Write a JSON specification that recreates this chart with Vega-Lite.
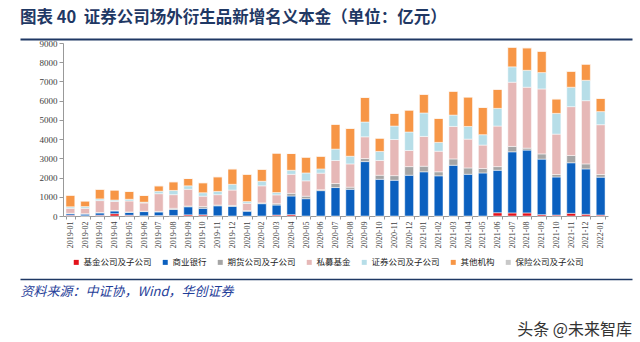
{
  "$schema": "https://vega.github.io/schema/vega-lite/v6.json",
  "background": "white",
  "padding": {"left": 20, "right": 6, "top": 9, "bottom": 4},
  "title": {"text": "图表 40\u00a0\u00a0证券公司场外衍生品新增名义本金（单位：亿元）", "anchor": "start", "font": "Noto Sans CJK SC", "fontSize": 16.5, "fontWeight": "bold", "color": "#1F3864", "offset": 12},
  "config": {"view": {"stroke": null}},
  "spacing": 30,
  "vconcat": [
    {
      "spacing": 0,
      "vconcat": [
        {
          "width": 569, "height": 1,
          "data": {"values": [{"v": 0}]},
          "mark": {"type": "point", "opacity": 0, "size": 0},
          "encoding": {"x": {"field": "v", "type": "quantitative", "scale": {"domain": [0, 1], "range": [-43, 569]}, "axis": {"orient": "bottom", "labels": false, "ticks": false, "grid": false, "title": null, "domainColor": "#1F3864", "domainWidth": 2}}}
        },
        {
          "width": 545, "height": 173,
          "data": {"values": [
            {"m": "2019-01", "基金公司及子公司": 40, "商业银行": 80, "期货公司及子公司": 20, "私募基金": 260, "证券公司及子公司": 80, "其他机构": 600, "保险公司及子公司": 0},
            {"m": "2019-02", "基金公司及子公司": 10, "商业银行": 90, "期货公司及子公司": 20, "私募基金": 280, "证券公司及子公司": 90, "其他机构": 290, "保险公司及子公司": 0},
            {"m": "2019-03", "基金公司及子公司": 40, "商业银行": 120, "期货公司及子公司": 20, "私募基金": 620, "证券公司及子公司": 90, "其他机构": 500, "保险公司及子公司": 0},
            {"m": "2019-04", "基金公司及子公司": 120, "商业银行": 140, "期货公司及子公司": 30, "私募基金": 470, "证券公司及子公司": 70, "其他机构": 520, "保险公司及子公司": 0},
            {"m": "2019-05", "基金公司及子公司": 40, "商业银行": 150, "期货公司及子公司": 20, "私募基金": 570, "证券公司及子公司": 90, "其他机构": 410, "保险公司及子公司": 0},
            {"m": "2019-06", "基金公司及子公司": 10, "商业银行": 220, "期货公司及子公司": 20, "私募基金": 430, "证券公司及子公司": 40, "其他机构": 350, "保险公司及子公司": 0},
            {"m": "2019-07", "基金公司及子公司": 20, "商业银行": 190, "期货公司及子公司": 30, "私募基金": 920, "证券公司及子公司": 130, "其他机构": 280, "保险公司及子公司": 0},
            {"m": "2019-08", "基金公司及子公司": 20, "商业银行": 320, "期货公司及子公司": 60, "私募基金": 710, "证券公司及子公司": 220, "其他机构": 450, "保险公司及子公司": 0},
            {"m": "2019-09", "基金公司及子公司": 60, "商业银行": 420, "期货公司及子公司": 40, "私募基金": 870, "证券公司及子公司": 180, "其他机构": 380, "保险公司及子公司": 0},
            {"m": "2019-10", "基金公司及子公司": 60, "商业银行": 340, "期货公司及子公司": 90, "私募基金": 540, "证券公司及子公司": 180, "其他机构": 520, "保险公司及子公司": 0},
            {"m": "2019-11", "基金公司及子公司": 10, "商业银行": 520, "期货公司及子公司": 40, "私募基金": 540, "证券公司及子公司": 170, "其他机构": 760, "保险公司及子公司": 0},
            {"m": "2019-12", "基金公司及子公司": 0, "商业银行": 500, "期货公司及子公司": 50, "私募基金": 800, "证券公司及子公司": 300, "其他机构": 800, "保险公司及子公司": 0},
            {"m": "2020-01", "基金公司及子公司": 0, "商业银行": 250, "期货公司及子公司": 30, "私募基金": 380, "证券公司及子公司": 90, "其他机构": 1420, "保险公司及子公司": 0},
            {"m": "2020-02", "基金公司及子公司": 0, "商业银行": 640, "期货公司及子公司": 40, "私募基金": 890, "证券公司及子公司": 240, "其他机构": 620, "保险公司及子公司": 0},
            {"m": "2020-03", "基金公司及子公司": 50, "商业银行": 520, "期货公司及子公司": 70, "私募基金": 460, "证券公司及子公司": 120, "其他机构": 2050, "保险公司及子公司": 0},
            {"m": "2020-04", "基金公司及子公司": 70, "商业银行": 970, "期货公司及子公司": 140, "私募基金": 990, "证券公司及子公司": 210, "其他机构": 870, "保险公司及子公司": 0},
            {"m": "2020-05", "基金公司及子公司": 0, "商业银行": 900, "期货公司及子公司": 130, "私募基金": 800, "证券公司及子公司": 410, "其他机构": 820, "保险公司及子公司": 0},
            {"m": "2020-06", "基金公司及子公司": 0, "商业银行": 1320, "期货公司及子公司": 50, "私募基金": 860, "证券公司及子公司": 220, "其他机构": 660, "保险公司及子公司": 0},
            {"m": "2020-07", "基金公司及子公司": 0, "商业银行": 1480, "期货公司及子公司": 210, "私募基金": 1200, "证券公司及子公司": 590, "其他机构": 1290, "保险公司及子公司": 0},
            {"m": "2020-08", "基金公司及子公司": 0, "商业银行": 1390, "期货公司及子公司": 110, "私募基金": 1210, "证券公司及子公司": 400, "其他机构": 1450, "保险公司及子公司": 0},
            {"m": "2020-09", "基金公司及子公司": 0, "商业银行": 2830, "期货公司及子公司": 160, "私募基金": 1130, "证券公司及子公司": 770, "其他机构": 1280, "保险公司及子公司": 0},
            {"m": "2020-10", "基金公司及子公司": 0, "商业银行": 1910, "期货公司及子公司": 210, "私募基金": 770, "证券公司及子公司": 470, "其他机构": 690, "保险公司及子公司": 0},
            {"m": "2020-11", "基金公司及子公司": 0, "商业银行": 1860, "期货公司及子公司": 240, "私募基金": 1880, "证券公司及子公司": 700, "其他机构": 660, "保险公司及子公司": 0},
            {"m": "2020-12", "基金公司及子公司": 0, "商业银行": 2120, "期货公司及子公司": 450, "私募基金": 840, "证券公司及子公司": 960, "其他机构": 1140, "保险公司及子公司": 0},
            {"m": "2021-01", "基金公司及子公司": 0, "商业银行": 2300, "期货公司及子公司": 290, "私募基金": 1550, "证券公司及子公司": 1220, "其他机构": 970, "保险公司及子公司": 0},
            {"m": "2021-02", "基金公司及子公司": 0, "商业银行": 2090, "期货公司及子公司": 210, "私募基金": 1070, "证券公司及子公司": 460, "其他机构": 1250, "保险公司及子公司": 0},
            {"m": "2021-03", "基金公司及子公司": 0, "商业银行": 2640, "期货公司及子公司": 330, "私募基金": 1690, "证券公司及子公司": 590, "其他机构": 1240, "保险公司及子公司": 0},
            {"m": "2021-04", "基金公司及子公司": 0, "商业银行": 2170, "期货公司及子公司": 330, "私募基金": 1500, "证券公司及子公司": 660, "其他机构": 1530, "保险公司及子公司": 0},
            {"m": "2021-05", "基金公司及子公司": 0, "商业银行": 2240, "期货公司及子公司": 230, "私募基金": 1220, "证券公司及子公司": 540, "其他机构": 1420, "保险公司及子公司": 0},
            {"m": "2021-06", "基金公司及子公司": 170, "商业银行": 2210, "期货公司及子公司": 190, "私募基金": 2110, "证券公司及子公司": 920, "其他机构": 990, "保险公司及子公司": 0},
            {"m": "2021-07", "基金公司及子公司": 160, "商业银行": 3180, "期货公司及子公司": 280, "私募基金": 3340, "证券公司及子公司": 800, "其他机构": 1020, "保险公司及子公司": 0},
            {"m": "2021-08", "基金公司及子公司": 160, "商业银行": 3270, "期货公司及子公司": 100, "私募基金": 3170, "证券公司及子公司": 880, "其他机构": 1170, "保险公司及子公司": 0},
            {"m": "2021-09", "基金公司及子公司": 70, "商业银行": 2890, "期货公司及子公司": 270, "私募基金": 3380, "证券公司及子公司": 850, "其他机构": 1110, "保险公司及子公司": 0},
            {"m": "2021-10", "基金公司及子公司": 50, "商业银行": 1980, "期货公司及子公司": 130, "私募基金": 2100, "证券公司及子公司": 1080, "其他机构": 750, "保险公司及子公司": 0},
            {"m": "2021-11", "基金公司及子公司": 140, "商业银行": 2630, "期货公司及子公司": 380, "私募基金": 2540, "证券公司及子公司": 1010, "其他机构": 830, "保险公司及子公司": 0},
            {"m": "2021-12", "基金公司及子公司": 90, "商业银行": 2360, "期货公司及子公司": 260, "私募基金": 3290, "证券公司及子公司": 1060, "其他机构": 840, "保险公司及子公司": 0},
            {"m": "2022-01", "基金公司及子公司": 50, "商业银行": 1970, "期货公司及子公司": 140, "私募基金": 2590, "证券公司及子公司": 680, "其他机构": 690, "保险公司及子公司": 0}
          ]},
          "transform": [
            {"fold": ["基金公司及子公司", "商业银行", "期货公司及子公司", "私募基金", "证券公司及子公司", "其他机构", "保险公司及子公司"], "as": ["type", "value"]},
            {"window": [{"op": "row_number", "as": "rank"}], "groupby": ["m"]}
          ],
          "mark": {"type": "bar", "stroke": "#ffffff", "strokeWidth": 0.5},
          "encoding": {
            "x": {"field": "m", "type": "ordinal", "sort": null, "scale": {"paddingInner": 0.4, "paddingOuter": 0.2},
              "axis": {"title": null, "labelAngle": 270, "labelFont": "Liberation Serif", "labelFontSize": 8, "labelColor": "#404040", "tickBand": "extent", "tickSize": 3, "tickColor": "#999999", "domainColor": "#999999", "labelPadding": 2}},
            "y": {"field": "value", "type": "quantitative", "stack": "zero", "scale": {"domain": [0, 9000], "nice": false},
              "axis": {"title": null, "values": [0, 1000, 2000, 3000, 4000, 5000, 6000, 7000, 8000, 9000], "format": "d", "grid": false, "labelFont": "Liberation Serif", "labelFontSize": 9, "labelColor": "#404040", "tickSize": 4, "tickColor": "#999999", "domainColor": "#999999", "labelPadding": 2, "minExtent": 43, "maxExtent": 43}},
            "order": {"field": "rank", "type": "quantitative", "sort": "ascending"},
            "color": {"field": "type", "type": "nominal",
              "scale": {"domain": ["基金公司及子公司", "商业银行", "期货公司及子公司", "私募基金", "证券公司及子公司", "其他机构", "保险公司及子公司"],
                        "range": ["#E3121B", "#0B60BF", "#A5A5A5", "#E6B8B7", "#B7DEE8", "#F79646", "#C8C8C8"]},
              "legend": {"orient": "none", "legendX": 9, "legendY": 220, "direction": "horizontal", "columns": 7, "title": null, "symbolType": "square", "symbolSize": 25, "symbolStrokeWidth": 0, "labelFont": "Noto Sans CJK SC", "labelFontSize": 8.5, "labelColor": "#222222", "columnPadding": 9, "labelOffset": 3}}
          }
        }
      ]
    },
    {
      "width": 569, "height": 1,
      "data": {"values": [{"v": 0}]},
      "mark": {"type": "point", "opacity": 0, "size": 0},
      "encoding": {"x": {"field": "v", "type": "quantitative", "scale": {"domain": [0, 1], "range": [-43, 569]},
        "axis": {"labels": false, "ticks": false, "grid": false, "domainColor": "#1F3864", "domainWidth": 1.5,
          "title": "资料来源：中证协，Wind，华创证券", "titleAnchor": "start", "titleFont": "Noto Sans CJK SC", "titleFontSize": 13, "titleFontStyle": "italic", "titleFontWeight": "normal", "titleColor": "#1F3E99", "titlePadding": 6}}},
      "title": {"text": "头条 @未来智库", "orient": "bottom", "anchor": "end", "frame": "group", "font": "Noto Sans CJK SC", "fontSize": 16, "fontWeight": "normal", "color": "#333333", "offset": 24}
    }
  ]
}
